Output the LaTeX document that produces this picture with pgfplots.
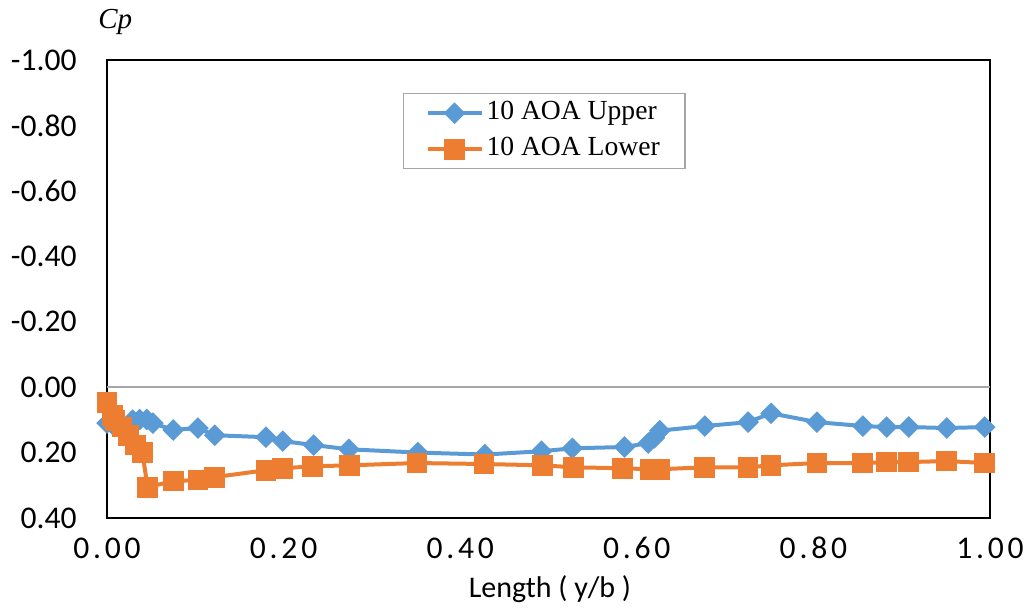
\documentclass[border=0pt]{standalone}
\usepackage{pgfplots}
\pgfplotsset{compat=1.18}
\usepackage{fontspec}
\setmainfont{Carlito}
\newfontfamily\timesf{Liberation Serif}
\definecolor{xlblue}{HTML}{5B9BD5}
\definecolor{xlorange}{HTML}{ED7D31}
\definecolor{zgray}{HTML}{A6A6A6}
\begin{document}
\begin{tikzpicture}
\begin{axis}[
  name=ax,
  scale only axis,
  width=441.5pt, height=229pt,
  xmin=0, xmax=1, ymin=-1, ymax=0.4,
  y dir=reverse,
  xtick={0,0.2,0.4,0.6,0.8,1},
  ytick={-1,-0.8,-0.6,-0.4,-0.2,0,0.2,0.4},
  /pgf/number format/assume math mode=true,
  /pgf/number format/.cd, fixed, fixed zerofill, precision=2, /pgfplots/.cd,
  major tick length=0pt,
  axis line style={black, line width=1pt},
  tick label style={font=\fontsize{15.8}{18}\selectfont},
  xticklabel style={anchor=base, yshift=-20pt, font=\fontsize{15.8}{18}\selectfont\addfontfeatures{LetterSpace=12}},
  yticklabel style={anchor=east, inner sep=0pt, xshift=-15pt},
  xlabel={Length ( y/b )},
  xlabel style={at={(axis description cs:0.5017,0)}, anchor=base, yshift=-39.5pt, font=\fontsize{15}{18}\selectfont},
  clip=false,
  legend style={at={(rel axis cs:0.335,0.928)}, anchor=north west,
    draw=zgray, line width=0.75pt, inner xsep=11pt, inner ysep=2pt,
    font=\timesf\fontsize{13.8}{16}\selectfont,
    nodes={inner sep=1.5pt, text height=9.5pt, text depth=3pt},
    row sep=2.5pt},
  legend cell align=left,
  legend image code/.code={\draw[#1, mark repeat=2, mark phase=2] plot coordinates {(0pt,0pt) (13.5pt,0pt) (27pt,0pt)};},
]
\addplot[color=zgray, line width=0.75pt, forget plot] coordinates {(0,0) (1,0)};
\addplot[color=xlblue, line width=2pt, mark=square*, mark size=2.83pt, mark options={rotate=45, solid}] coordinates {
(0.000,0.110) (0.007,0.116) (0.029,0.101) (0.037,0.099) (0.045,0.099) (0.052,0.110)
(0.075,0.131) (0.103,0.125) (0.122,0.147) (0.180,0.153) (0.199,0.165) (0.234,0.177)
(0.274,0.190) (0.352,0.200) (0.428,0.206) (0.492,0.196) (0.527,0.187) (0.586,0.183)
(0.613,0.171) (0.620,0.155) (0.626,0.133) (0.677,0.119) (0.726,0.107) (0.752,0.080)
(0.804,0.107) (0.856,0.119) (0.883,0.122) (0.908,0.122) (0.951,0.125) (0.994,0.122)
};
\addlegendentry{10 AOA Upper}
\addplot[color=xlorange, line width=2pt, mark=square*, mark size=4.2pt, mark options={solid}] coordinates {
(0.000,0.046) (0.006,0.086) (0.009,0.101) (0.017,0.122) (0.024,0.147) (0.032,0.177)
(0.040,0.199) (0.046,0.306) (0.075,0.287) (0.103,0.284) (0.122,0.275) (0.180,0.254)
(0.199,0.248) (0.233,0.242) (0.275,0.239) (0.351,0.232) (0.427,0.235) (0.493,0.239)
(0.528,0.245) (0.584,0.248) (0.615,0.251) (0.626,0.251) (0.677,0.245) (0.726,0.245)
(0.752,0.239) (0.804,0.232) (0.856,0.232) (0.883,0.229) (0.908,0.229) (0.951,0.226)
(0.994,0.232)
};
\addlegendentry{10 AOA Lower}
\node[anchor=base west, inner sep=0pt, font=\timesf\itshape\fontsize{14.5}{17}\selectfont] at ([xshift=-4.5pt, yshift=15.5pt]rel axis cs:0,1) {Cp};
\end{axis}
\pgfresetboundingbox
\path ([shift={(-53.5pt,-47.5pt)}]ax.south west) rectangle ([shift={(20.5pt,30pt)}]ax.north east);
\end{tikzpicture}
\end{document}
